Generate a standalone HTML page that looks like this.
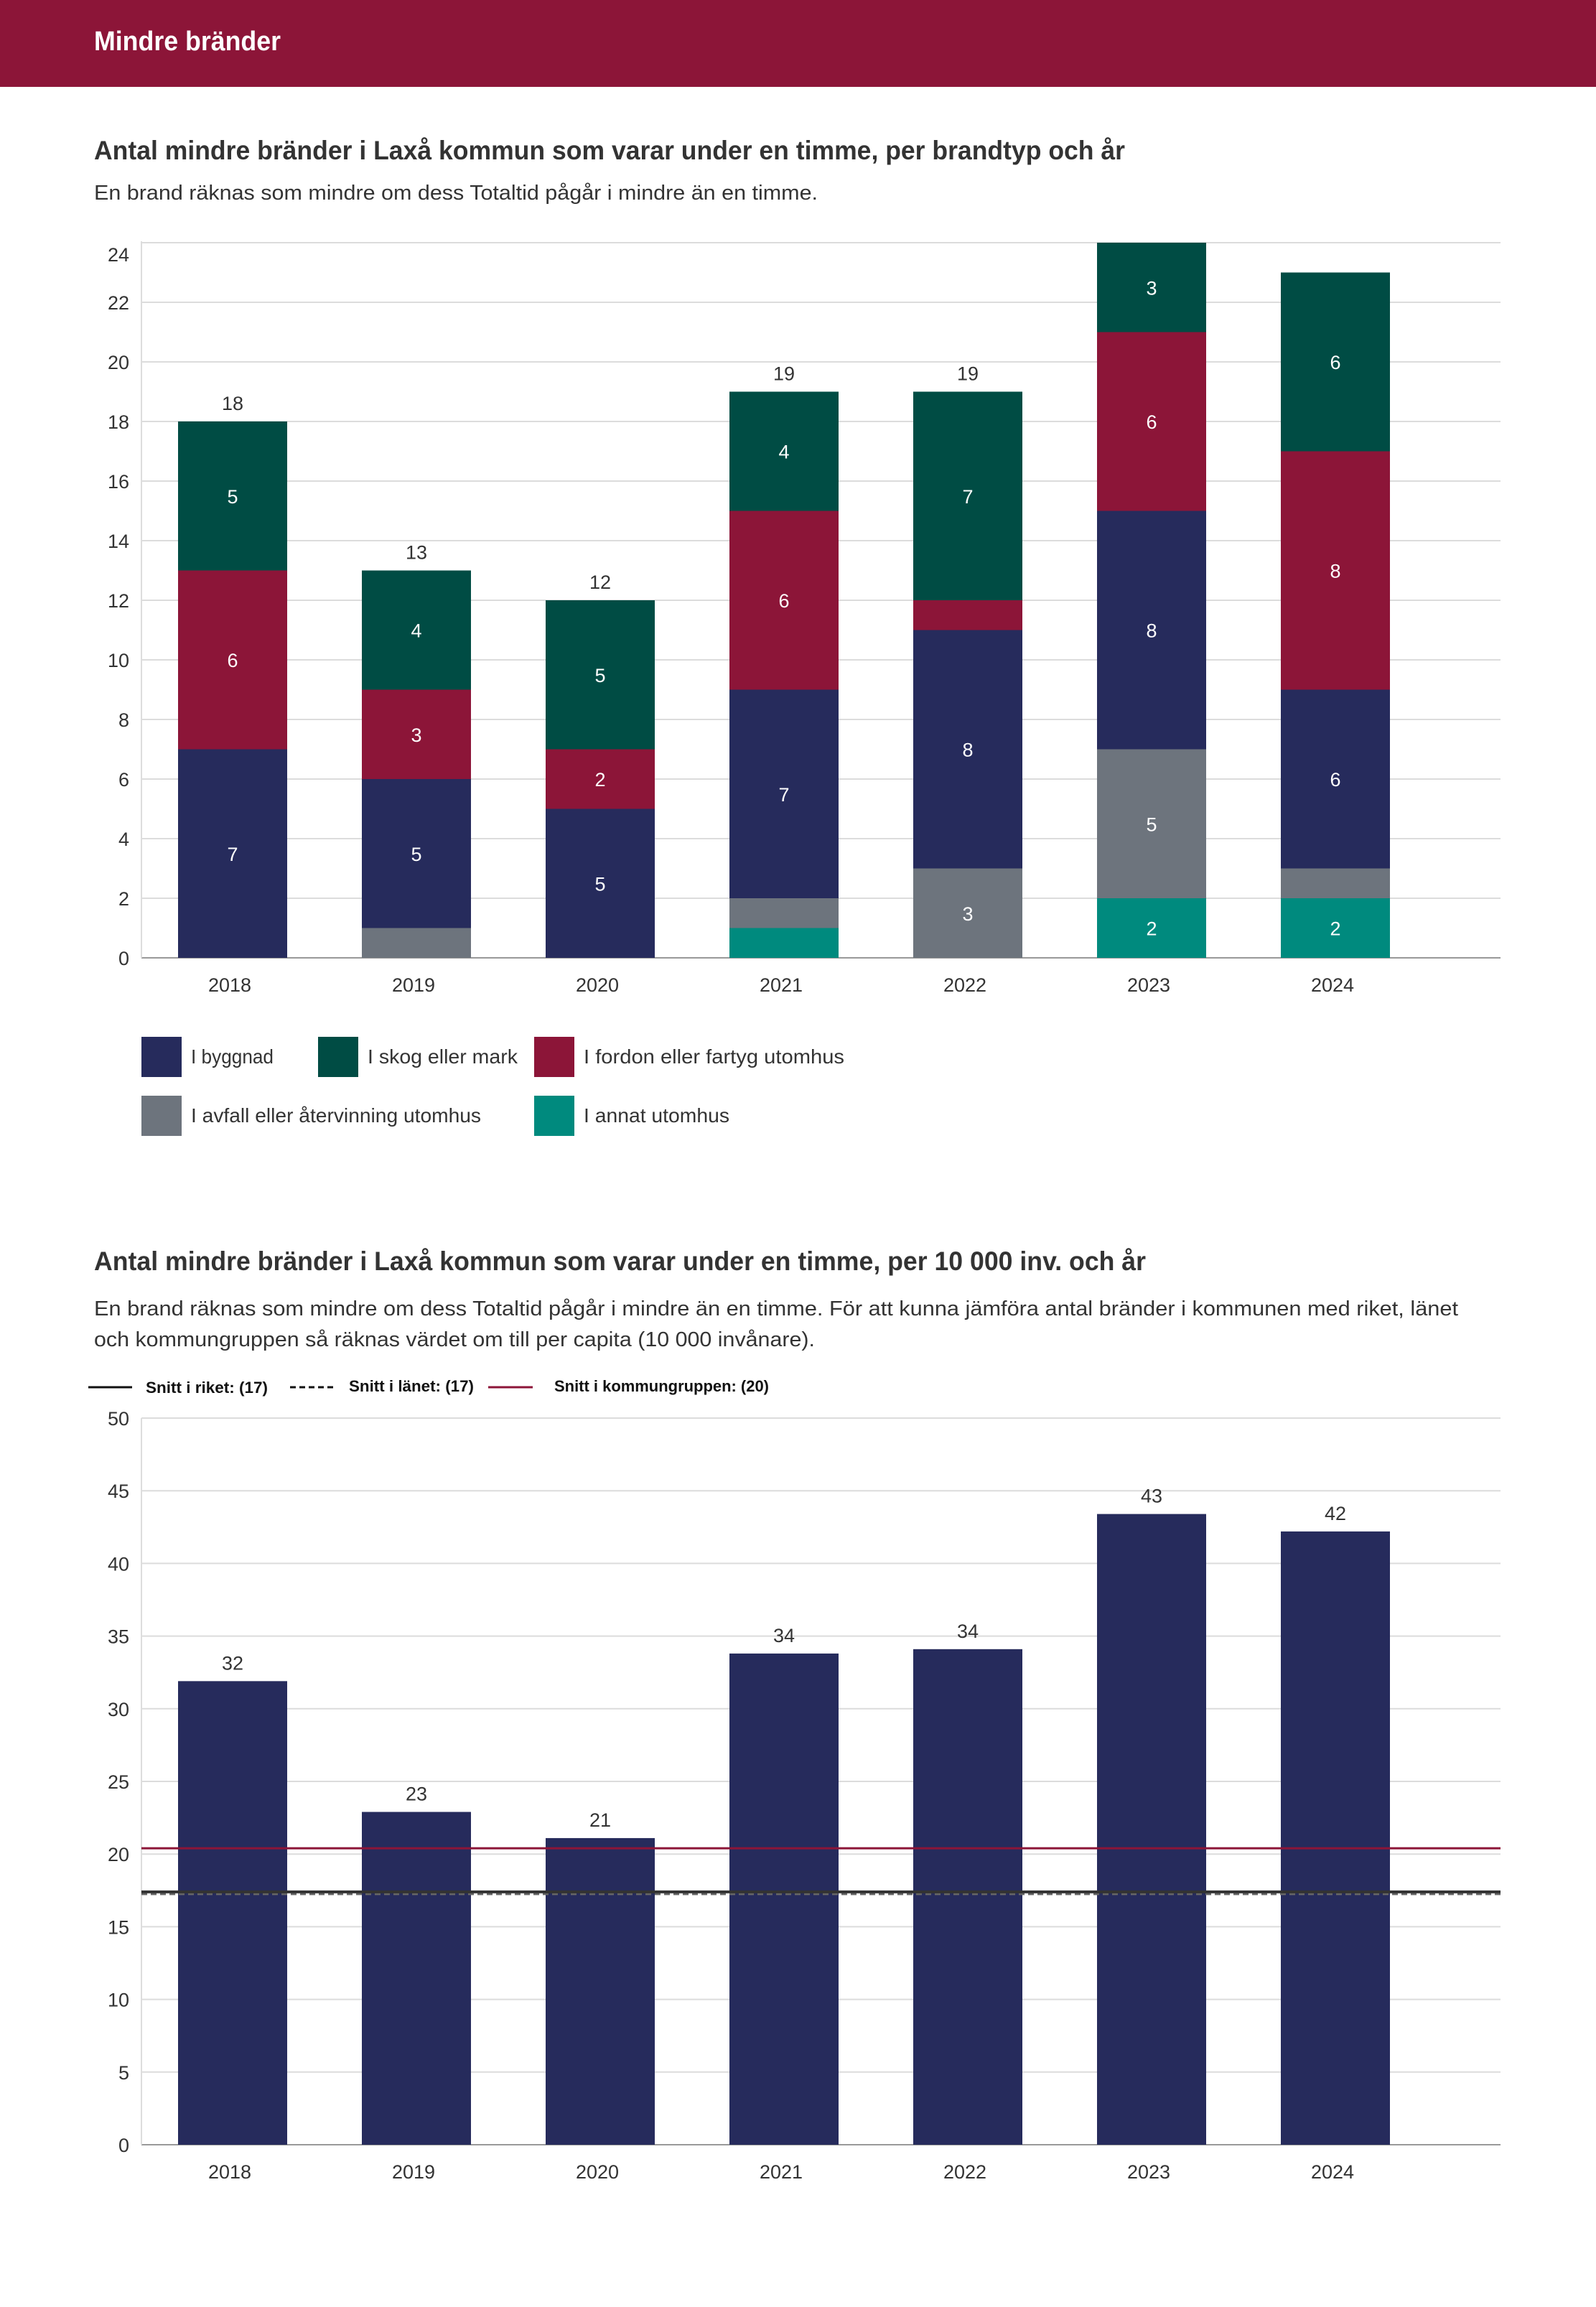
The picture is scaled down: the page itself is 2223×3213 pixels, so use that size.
<!DOCTYPE html>
<html><head><meta charset="utf-8"><style>
html,body{margin:0;padding:0;background:#fff;}
svg{display:block;font-family:"Liberation Sans",sans-serif;}
</style></head><body>
<svg id="s" width="2223" height="3213" viewBox="0 0 2223 3213" xmlns="http://www.w3.org/2000/svg">
<rect x="0" y="0" width="2223" height="121" fill="#8c1538"/>
<text x="131" y="70" fill="#fff" font-size="38" font-weight="bold" textLength="260" lengthAdjust="spacingAndGlyphs">Mindre bränder</text>
<text x="131" y="222" fill="#333" font-size="37" font-weight="bold" textLength="1436" lengthAdjust="spacingAndGlyphs">Antal mindre bränder i Laxå kommun som varar under en timme, per brandtyp och år</text>
<text x="131" y="278" fill="#333" font-size="29" textLength="1008" lengthAdjust="spacingAndGlyphs">En brand räknas som mindre om dess Totaltid pågår i mindre än en timme.</text>
<g id="c1"></g>
<g id="l1"></g>
<text x="131" y="1769" fill="#333" font-size="37" font-weight="bold" textLength="1465" lengthAdjust="spacingAndGlyphs">Antal mindre bränder i Laxå kommun som varar under en timme, per 10 000 inv. och år</text>
<text x="131" y="1832" fill="#333" font-size="29" textLength="1900" lengthAdjust="spacingAndGlyphs">En brand räknas som mindre om dess Totaltid pågår i mindre än en timme. För att kunna jämföra antal bränder i kommunen med riket, länet</text>
<text x="131" y="1875" fill="#333" font-size="29" textLength="1004" lengthAdjust="spacingAndGlyphs">och kommungruppen så räknas värdet om till per capita (10 000 invånare).</text>
<g id="l2">
<line x1="123" y1="1932" x2="184" y2="1932" stroke="#111" stroke-width="3"/>
<text x="203" y="1940" font-size="22" font-weight="bold" fill="#111" textLength="170" lengthAdjust="spacingAndGlyphs">Snitt i riket: (17)</text>
<line x1="404" y1="1932" x2="465" y2="1932" stroke="#111" stroke-width="3" stroke-dasharray="8,5"/>
<text x="486" y="1938" font-size="22" font-weight="bold" fill="#111" textLength="174" lengthAdjust="spacingAndGlyphs">Snitt i länet: (17)</text>
<line x1="680" y1="1932" x2="742" y2="1932" stroke="#8c1538" stroke-width="3"/>
<text x="772" y="1938" font-size="22" font-weight="bold" fill="#111" textLength="299" lengthAdjust="spacingAndGlyphs">Snitt i kommungruppen: (20)</text>
</g>
<g id="c2"></g>
</svg>
<script>
const years=["2018","2019","2020","2021","2022","2023","2024"];
const annat=[0,0,0,1,0,2,2];
const avfall=[0,1,0,1,3,5,1];
const byggnad=[7,5,5,7,8,8,6];
const fordon=[6,3,2,6,1,6,8];
const skog=[5,4,5,4,7,3,6];
const ticks1=[0,2,4,6,8,10,12,14,16,18,20,22,24];
const perCapita=[31.9,22.9,21.1,33.8,34.1,43.4,42.2];
const perCapitaLabels=["32","23","21","34","34","43","42"];
const ticks2=[0,5,10,15,20,25,30,35,40,45,50];
const snittRiket=17.4, snittLanet=17.3, snittKommungrupp=20.4;

const NS="http://www.w3.org/2000/svg";
function mk(parent,tag,attrs,txt){const e=document.createElementNS(NS,tag);for(const k in attrs)e.setAttribute(k,attrs[k]);if(txt!==undefined)e.textContent=txt;parent.appendChild(e);return e;}
const X0=197,X1=2090,BW=152;
function xc(i){return 324+i*256;}

// Chart 1
const c1=document.getElementById('c1');
const y1=v=>1334-v*41.5;
ticks1.forEach(t=>{
  const g=mk(c1,'line',{x1:X0,x2:X1,y1:y1(t),y2:y1(t),stroke:t===0?'#999':'#dcdcdc','stroke-width':2});
  
  
  const lb=mk(c1,'text',{x:180,y:y1(t)+(t===24?26:10),'text-anchor':'end','font-size':27,fill:'#333'},String(t));
  
  
});
const ax=mk(c1,'line',{x1:X0,x2:X0,y1:y1(24)-2,y2:1334,stroke:'#ddd','stroke-width':2});


const series=[[annat,'#008a7e','annat'],[avfall,'#6d747d','avfall'],[byggnad,'#262b5c','byggnad'],[fordon,'#8c1538','fordon'],[skog,'#004c44','skog']];
years.forEach((yr,i)=>{
  let base=0;
  series.forEach(([arr,col,nm])=>{
    const v=arr[i];
    if(v>0){
      const r=mk(c1,'rect',{x:xc(i)-BW/2,y:y1(base+v),width:BW,height:y1(base)-y1(base+v),fill:col});
      
      
      if(v>1){
        const t=mk(c1,'text',{x:xc(i),y:(y1(base)+y1(base+v))/2+10,'text-anchor':'middle','font-size':27,fill:'#fff'},String(v));
        
        
      }
    }
    base+=v;
  });
  if(base<=21){
    const t=mk(c1,'text',{x:xc(i),y:y1(base)-16,'text-anchor':'middle','font-size':27,fill:'#333'},String(base));
    
    
  }
  const xl=mk(c1,'text',{x:xc(i)-4,y:1381,'text-anchor':'middle','font-size':27,fill:'#333'},yr);
  
  
});
// Legend 1
const l1=document.getElementById('l1');
const legItems=[['I byggnad','#262b5c',197,1444,115],['I skog eller mark','#004c44',443,1444,209],['I fordon eller fartyg utomhus','#8c1538',744,1444,363],['I avfall eller återvinning utomhus','#6d747d',197,1526,404],['I annat utomhus','#008a7e',744,1526,203]];
legItems.forEach(([lab,col,x,y,w])=>{
  const r=mk(l1,'rect',{x:x,y:y,width:56,height:56,fill:col});
  
  
  const t=mk(l1,'text',{x:x+69,y:y+37,'font-size':28,fill:'#333',textLength:w,lengthAdjust:'spacingAndGlyphs'},lab);
  
  
});

// Chart 2
const c2=document.getElementById('c2');
const y2=v=>2987-v*20.24;
ticks2.forEach(t=>{
  const g=mk(c2,'line',{x1:X0,x2:X1,y1:y2(t),y2:y2(t),stroke:t===0?'#999':'#dcdcdc','stroke-width':2});
  
  
  const lb=mk(c2,'text',{x:180,y:y2(t)+10,'text-anchor':'end','font-size':27,fill:'#333'},String(t));
  
  
});
const ax2=mk(c2,'line',{x1:X0,x2:X0,y1:y2(50),y2:2987,stroke:'#ddd','stroke-width':2});


years.forEach((yr,i)=>{
  const r=mk(c2,'rect',{x:xc(i)-BW/2,y:y2(perCapita[i]),width:BW,height:2987-y2(perCapita[i]),fill:'#262b5c'});
  
  
  const t=mk(c2,'text',{x:xc(i),y:y2(perCapita[i])-16,'text-anchor':'middle','font-size':27,fill:'#333'},perCapitaLabels[i]);
  
  
  const xl=mk(c2,'text',{x:xc(i)-4,y:3034,'text-anchor':'middle','font-size':27,fill:'#333'},yr);
  
  
});
const lk=mk(c2,'line',{x1:X0,x2:X1,y1:y2(snittKommungrupp),y2:y2(snittKommungrupp),stroke:'#8c1538','stroke-width':3});


const ll=mk(c2,'line',{x1:X0,x2:X1,y1:y2(snittLanet)+1,y2:y2(snittLanet)+1,stroke:'#666','stroke-width':3,'stroke-dasharray':'8,5'});


const lr=mk(c2,'line',{x1:X0,x2:X1,y1:y2(snittRiket),y2:y2(snittRiket),stroke:'#333','stroke-width':4});


</script>
</body></html>
